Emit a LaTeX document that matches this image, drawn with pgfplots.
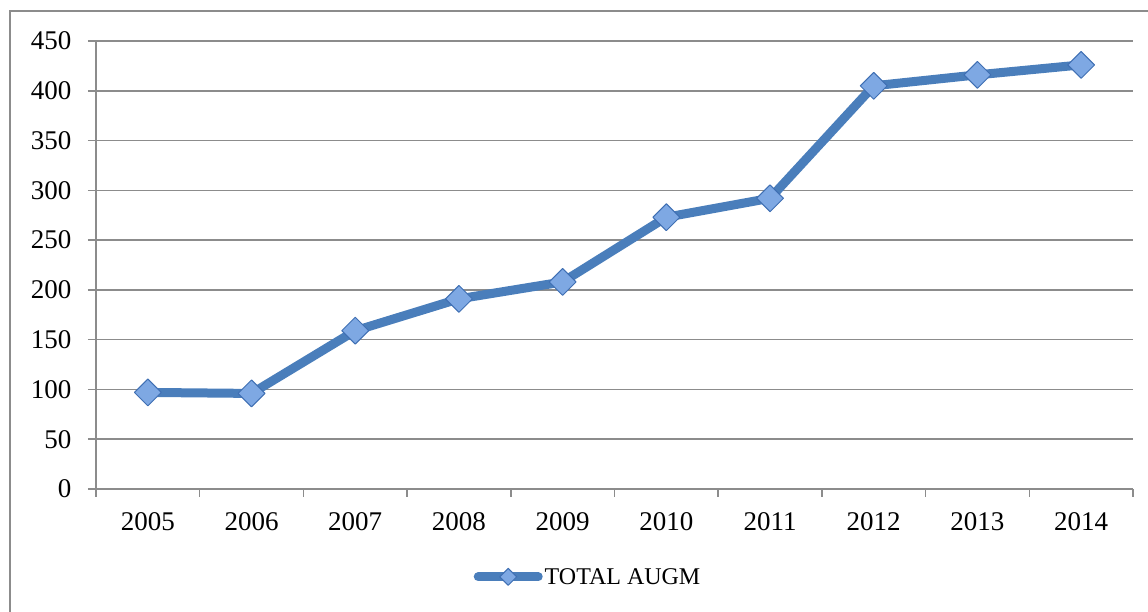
\documentclass[border=0pt]{standalone}
\usepackage{fontspec}
\setmainfont{Liberation Serif}
\usepackage{pgfplots}
\pgfplotsset{compat=1.18}
\definecolor{lineblue}{HTML}{4A7EBB}
\definecolor{markfill}{HTML}{7EA8E3}
\definecolor{markedge}{HTML}{3F6FB3}
\definecolor{gridgray}{HTML}{8C8C8C}
\begin{document}
\begin{tikzpicture}[x=1pt,y=1pt]
\begin{axis}[
    width=1037pt, height=448pt, scale only axis,
    xmin=0, xmax=10, ymin=0, ymax=450,
    axis lines*=left,
    axis line style={gridgray, line width=1.5pt},
    ytick={0,50,...,450},
    ymajorgrids,
    major grid style={gridgray, line width=1.5pt},
    xtick={0.5,1.5,...,9.5},
    xticklabels={2005,2006,2007,2008,2009,2010,2011,2012,2013,2014},
    minor xtick={0,1,...,10},
    tick align=outside,
    major tick length=8pt, minor tick length=8pt,
    every tick/.style={gridgray, line width=1.5pt},
    major x tick style={draw=none},
    /pgf/number format/assume math mode=true,
    tick label style={font=\fontsize{27}{32}\selectfont},
    yticklabel style={xshift=-13pt},
    xticklabel style={yshift=-12pt},
    legend style={at={(0.4745,-0.196)}, anchor=center, draw=none, fill=none,
        font=\fontsize{24}{29}\selectfont},
    legend image code/.code={\draw[#1, mark size=6pt, mark repeat=2, mark phase=2, line cap=round]
        plot coordinates {(0pt,0pt) (30pt,0pt) (60pt,0pt)};},
]
% TOTAL AUGM
\addplot[lineblue, line width=9pt, line join=round,
    mark=square*, mark size=9.5pt,
    mark options={rotate=45, fill=markfill, draw=markedge, line width=1pt}]
coordinates {
    (0.5,97) (1.5,96) (2.5,159) (3.5,191) (4.5,208)
    (5.5,273) (6.5,292) (7.5,405) (8.5,416) (9.5,426)
};
\legend{TOTAL AUGM}
\end{axis}
% outer chart frame
\draw[gridgray, line width=1.5pt] (-86,-140) -- (-86,478) -- (1070,478);
\pgfresetboundingbox
\useasboundingbox (-96,-123) rectangle (1052,489);
\end{tikzpicture}
\end{document}
